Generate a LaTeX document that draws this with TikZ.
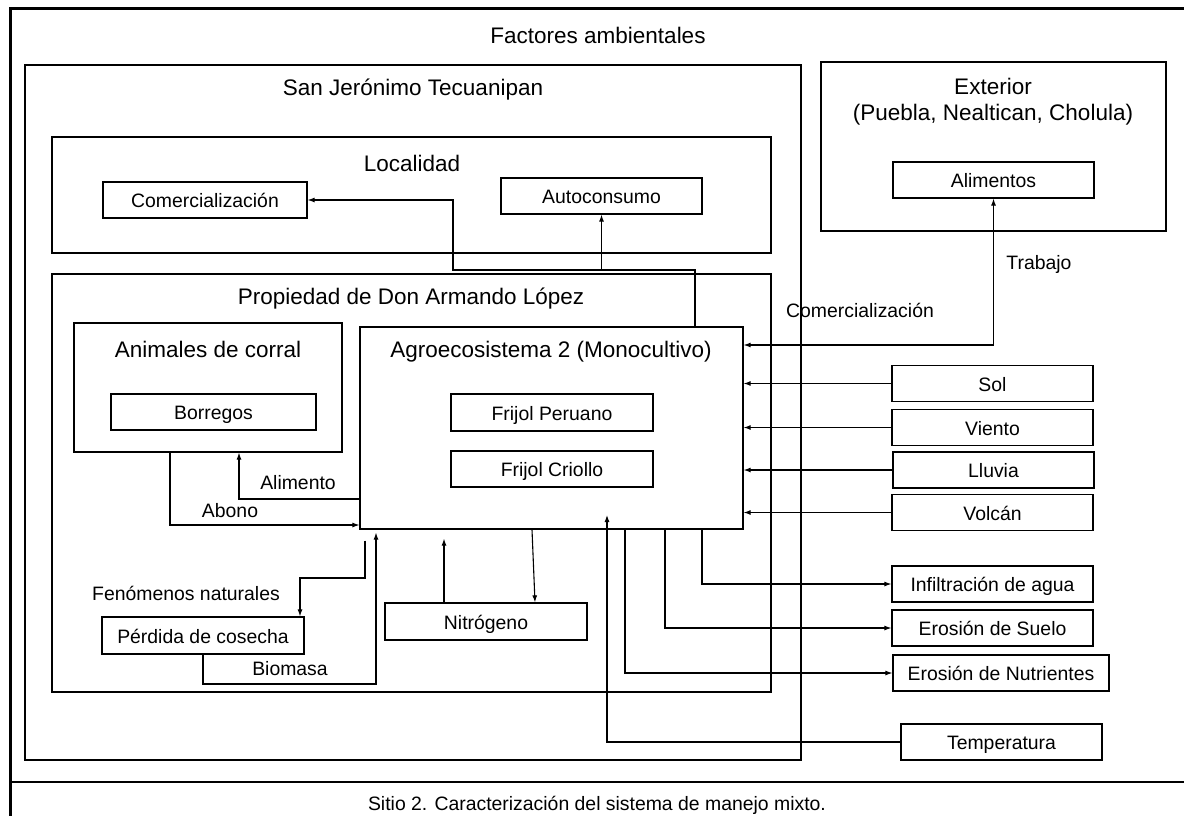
\documentclass[tikz,border=0pt]{standalone}
\usepackage{fontspec}
\setmainfont{Liberation Sans}
\usetikzlibrary{arrows.meta,positioning,calc}
\newcommand\ttl{\fontsize{22.5}{26}\selectfont}
\newcommand\lbl{\fontsize{19.4}{23}\selectfont}
\tikzset{
  frame/.style={draw, line width=1.2pt, inner sep=0pt},
  box/.style={draw, line width=1.2pt, minimum width=201pt, minimum height=36pt, inner sep=0pt, font=\lbl, text height=18.8pt, text depth=3pt},
  flow/.style={line width=1.1pt, -{Latex[length=7pt,width=5pt]}},
  txt/.style={font=\lbl, inner sep=0pt, text height=18.8pt, text depth=3pt},
  head/.style={font=\ttl, inner sep=0pt}
}
\begin{document}
\begin{tikzpicture}[x=1pt,y=-1pt]
\useasboundingbox (0,0) rectangle (1184,816);
\fill[white] (0,0) rectangle (1184,816);
% outer frame and caption
\draw[line width=3pt] (10,9) rectangle (1192,824);
\draw[line width=1.5pt] (10,782) -- (1184,782);
\node[txt] (caption) at (597,803) {Sitio 2. Caracterización del sistema de manejo mixto.};
\node[head] (factores) at (598,35) {Factores ambientales};
% containers
\node[frame, minimum width=776pt, minimum height=695pt] (sanjer) at (413,412.5) {};
\node[head] at (413,90) {San Jerónimo Tecuanipan};
\node[frame, minimum width=719pt, minimum height=116pt] (local) at (411.5,195) {};
\node[head] at (412,163) {Localidad};
\node[frame, minimum width=719pt, minimum height=418pt] (prop) at (411.5,483) {};
\node[head] at (411,299) {Propiedad de Don Armando López};
\node[frame, minimum width=345pt, minimum height=169pt] (exterior) at (993.5,146.5) {};
\node[head, align=center] at (993,102) {Exterior\\(Puebla, Nealtican, Cholula)};
\node[frame, minimum width=268pt, minimum height=129pt] (animales) at (208,387.5) {};
\node[head] at (208,349) {Animales de corral};
\node[frame, minimum width=383pt, minimum height=202pt] (agro) at (551.5,428) {};
\node[head] at (551,352) {Agroecosistema 2 (Monocultivo)};
% boxes
\node[box, minimum width=204pt] (comloc) at (205,200) {Comercialización};
\node[box] (autoc) at (601.5,196) {Autoconsumo};
\node[box] (alim) at (993.5,180) {Alimentos};
\node[box, minimum width=205pt] (borregos) at (213.5,412) {Borregos};
\node[box, minimum width=202pt, minimum height=37pt] (peruano) at (552,412.5) {Frijol Peruano};
\node[box, minimum width=202pt] (criollo) at (552,469) {Frijol Criollo};
\node[box, minimum width=202pt, minimum height=37pt] (perdida) at (203,635.5) {Pérdida de cosecha};
\node[box, minimum width=202pt, minimum height=37pt] (nitro) at (486,621.5) {Nitrógeno};
% environment inputs
\node[box] (sol) at (992.5,383.5) {Sol};
\node[box] (viento) at (992.5,427.5) {Viento};
\node[box] (lluvia) at (993.5,470) {Lluvia};
\node[box] (volcan) at (992.5,512.5) {Volcán};
\node[box] (temp) at (1001.5,742) {Temperatura};
% outputs
\node[box] (infil) at (992.5,584) {Infiltración de agua};
\node[box] (erosuelo) at (992.5,628) {Erosión de Suelo};
\node[box, minimum width=216pt] (eronut) at (1001,673) {Erosión de Nutrientes};
% flows to the locality
\draw[flow] ([xshift=143.5]agro.north) |- (453,270) |- (comloc.east);
\draw[flow] ([xshift=143.5]agro.north) |- (601.5,270) -- (autoc.south);
% exchange with the exterior
\draw[line width=1.1pt, {Latex[length=7pt,width=5pt]}-{Latex[length=7pt,width=5pt]}] (agro.east |- 0,345) -| (alim.south);
\node[txt] at (860,310) {Comercialización};
\node[txt] at (1039,262) {Trabajo};
% inputs
\foreach \n in {sol,viento,lluvia,volcan}
  \draw[flow] (\n.west) -- (agro.east |- \n.west);
\coordinate (tempin) at (607,515);
\draw[flow] (temp.west) -| (tempin);
\draw[flow] ([xshift=150.5]agro.south) |- (infil.west);
\draw[flow] ([xshift=113.5]agro.south) |- (erosuelo.west);
\draw[flow] ([xshift=73.5]agro.south) |- (eronut.west);
% animals
\draw[flow] (agro.west |- 0,499) -| ([xshift=31]animales.south);
\node[txt] at (298,482) {Alimento};
\draw[flow] ([xshift=-38]animales.south) |- (agro.west |- 0,525);
\node[txt] at (230,510) {Abono};
% losses and biomass
\draw[flow] ([xshift=-186.5,yshift=-11]agro.south) |- (300,578) -- ([xshift=97]perdida.north);
\node[txt] at (186,593) {Fenómenos naturales};
\draw[flow] (perdida.south) |- (376,684) -- ([xshift=-175.5,yshift=-3]agro.south);
\node[txt] at (290,668) {Biomasa};
% nitrogen
\draw[flow] ([xshift=-42]nitro.north) -- ([xshift=-107.5,yshift=-9]agro.south);
\draw[flow] ([xshift=-19.5]agro.south) -- ([xshift=49]nitro.north);
\end{tikzpicture}
\end{document}
